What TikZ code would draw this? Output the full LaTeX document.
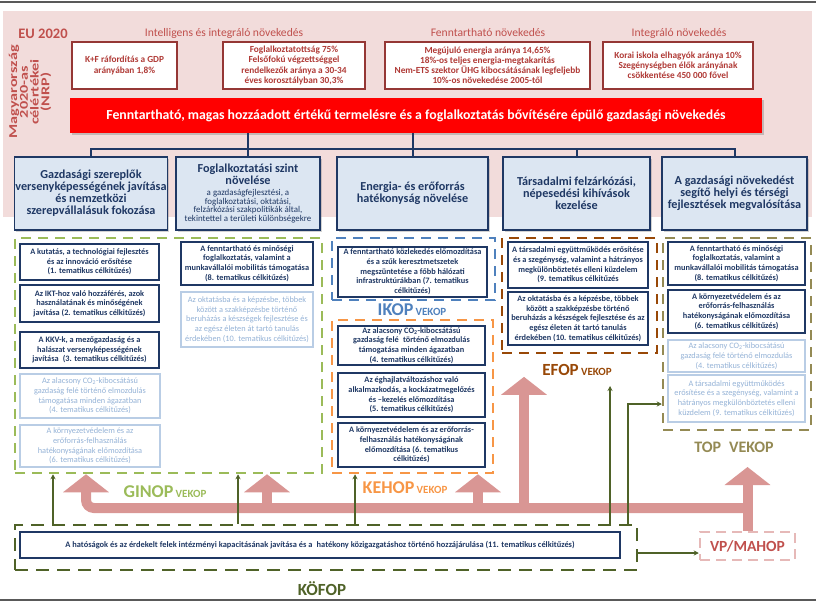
\documentclass[tikz,border=0pt]{standalone}
\usepackage{fontspec}
\setmainfont{Carlito}
\newfontfamily\widefont[FakeStretch=1.35]{Carlito}
\usepackage{xcolor}
\usepackage{tikz}
\usetikzlibrary{arrows.meta,shadows}

\definecolor{bgpink}{HTML}{F2DCDB}
\definecolor{nrpred}{HTML}{C0504D}
\definecolor{goalred}{HTML}{953735}
\definecolor{goaltext}{HTML}{B03A36}
\definecolor{barred}{HTML}{FF0000}
\definecolor{navy}{HTML}{1F3864}
\definecolor{pillarfill}{HTML}{DCE6F2}
\definecolor{fadeborder}{HTML}{B9CDE5}
\definecolor{fadetext}{HTML}{95B3D7}
\definecolor{ginopgreen}{HTML}{9BBB59}
\definecolor{ikopblue}{HTML}{4F81BD}
\definecolor{kehoporange}{HTML}{F79646}
\definecolor{efopbrown}{HTML}{984807}
\definecolor{topkhaki}{HTML}{948A54}
\definecolor{kofopolive}{HTML}{4F6228}
\definecolor{vppink}{HTML}{E6B9B8}
\definecolor{arrowpink}{HTML}{D99694}
\definecolor{framegray}{HTML}{595959}

\begin{document}
\begin{tikzpicture}[
  x=1pt, y=-1pt,
  >={Stealth[length=5pt,width=5pt]},
  head/.style={text=nrpred, font=\fontsize{11.6}{13}\selectfont},
  goal/.style={
    draw=goalred, line width=1.4pt, fill=white, align=center,
    inner sep=1pt, minimum height=47pt, text=goaltext,
    font=\fontsize{9.3}{10.1}\selectfont\bfseries
  },
  pillar/.style={
    draw=navy, line width=1.8pt, fill=pillarfill, align=center,
    inner sep=1pt, minimum height=73pt, text=navy,
    font=\fontsize{12.2}{12}\selectfont\bfseries,
    drop shadow={shadow xshift=1.5pt, shadow yshift=-1.5pt, opacity=0.35}
  },
  obj/.style={
    draw=navy, line width=1.5pt, fill=white, align=center,
    inner sep=1pt, text=navy,
    font=\fontsize{8.3}{9.7}\selectfont\bfseries
  },
  fobj/.style={obj, draw=fadeborder, line width=1.3pt, text=fadetext,
    font=\fontsize{8.3}{9.7}\selectfont},
  prog/.style={draw=#1, line width=2.5pt, dash pattern=on 10pt off 7pt},
  proglabel/.style={text=#1, font=\bfseries, inner sep=1pt},
  bigarrow/.style={-{Triangle[length=18pt,width=45pt]}, line width=10pt, arrowpink},
  thinarrow/.style={->, line width=1.2pt, kofopolive},
  treeline/.style={navy, line width=2pt}
]
\useasboundingbox (0,0) rectangle (816,602);

% ── Frame and background ────────────────────────────────────────────────────
\draw[framegray, line width=1.2pt] (0,2) -- (816,2);
\draw[framegray, line width=1.2pt] (0,600) -- (816,600);
\fill[bgpink] (3,11) rectangle (812,217);

% ── Row 0: EU 2020 targets ──────────────────────────────────────────────────
\node[font=\fontsize{14.5}{16}\selectfont\bfseries, text=nrpred] (eu) at (43,34) {EU 2020};
\node[rotate=90, align=center, text=nrpred,
  font=\widefont\fontsize{12}{10.8}\selectfont\bfseries]
  (nrp) at (30,92) {Magyarország\\2020-as\\célértékei\\(NRP)};

\node[head] (hsmart) at (224,33) {Intelligens és integráló növekedés};
\node[head] (hsust)  at (488,33) {Fenntartható növekedés};
\node[head] (hincl)  at (679,33) {Integráló növekedés};

\node[goal, minimum width=105pt] (gkf)  at (124.5,65.5)
  {K+F ráfordítás a GDP\\arányában 1,8\%};
\node[goal, minimum width=142pt] (gfog) at (294,65.5)
  {Foglalkoztatottság 75\%\\Felsőfokú végzettséggel\\rendelkezők aránya a 30-34\\éves korosztályban 30,3\%};
\node[goal, minimum width=205pt] (gene) at (487.5,65.5)
  {Megújuló energia aránya 14,65\%\\18\%-os teljes energia-megtakarítás\\Nem-ETS szektor ÜHG kibocsátásának legfeljebb\\10\%-os növekedése 2005-től};
\node[goal, minimum width=150pt] (gint) at (678,65.5)
  {Korai iskola elhagyók aránya 10\%\\Szegénységben élők arányának\\csökkentése 450 000 fővel};

% ── Row 1: overall goal ─────────────────────────────────────────────────────
\node[fill=barred, text=white, minimum width=692pt, minimum height=35pt, inner sep=1pt,
  font=\fontsize{13.8}{15}\selectfont\bfseries,
  drop shadow={shadow xshift=2pt, shadow yshift=-2pt, opacity=0.4}]
  (bar) at (416,115.5)
  {Fenntartható, magas hozzáadott értékű termelésre és a foglalkoztatás bővítésére épülő gazdasági növekedés};

% ── Row 2: priorities ───────────────────────────────────────────────────────
\node[pillar, minimum width=152pt] (pA) at (91,193.5)
  {Gazdasági szereplők\\versenyképességének javítása\\és nemzetközi\\szerepvállalásuk fokozása};
\node[pillar, minimum width=144pt] (pB) at (248,193.5)
  {Foglalkoztatási szint\\növelése\\[-0.5pt]{\fontsize{8.9}{7.9}\selectfont\mdseries
   \begin{tabular}[t]{@{}c@{}}a gazdaságfejlesztési, a\\foglalkoztatási, oktatási,\\felzárkózási szakpolitikák által,\\tekintettel a területi különbségekre\end{tabular}}};
\node[pillar, minimum width=151pt] (pC) at (412.5,193.5)
  {Energia- és erőforrás\\hatékonyság növelése};
\node[pillar, minimum width=147pt] (pD) at (576.5,193.5)
  {Társadalmi felzárkózási,\\népesedési kihívások\\kezelése};
\node[pillar, minimum width=145pt] (pE) at (734.5,193.5)
  {A gazdasági növekedést\\segítő helyi és térségi\\fejlesztések megvalósítása};

\coordinate (hub) at (416,149);
\draw[treeline] (pA.north) |- (hub) -| (pE.north);
\draw[treeline] (bar.south -| pB.north) -- (pB.north);
\draw[treeline] (bar.south -| pC.north) -- (pC.north);
\draw[treeline] (hub -| pD.north) -- (pD.north);

% ── Row 3: operational programmes ───────────────────────────────────────────
\node[prog=ginopgreen,  minimum width=307pt, minimum height=235pt] (ginop) at (168.5,355.5) {};
\node[prog=ikopblue,    minimum width=163pt, minimum height=62pt]  (ikop)  at (413.5,269) {};
\node[prog=kehoporange, minimum width=161pt, minimum height=153pt] (kehop) at (412.5,396.5) {};
\node[prog=efopbrown,   minimum width=155pt, minimum height=115pt] (efop)  at (579.5,295.5) {};
\node[prog=topkhaki,    minimum width=148pt, minimum height=192pt] (top)   at (737,334) {};
\node[prog=kofopolive, dash pattern=on 13pt off 8pt,
  minimum width=622pt, minimum height=45pt] (kofop) at (326,547.5) {};
\node[prog=vppink, dash pattern=on 10pt off 6pt, text=nrpred,
  font=\fontsize{15.5}{17}\selectfont\bfseries,
  minimum width=95pt, minimum height=28pt] (vp) at (747.5,546) {VP/MAHOP};

\node[proglabel=ginopgreen]  (ginopL) at (165,492)
  {{\fontsize{18}{20}\selectfont GINOP} {\fontsize{11}{12}\selectfont VEKOP}};
\node[proglabel=ikopblue]    (ikopL)  at (412,310)
  {{\fontsize{18}{20}\selectfont IKOP} {\fontsize{11}{12}\selectfont VEKOP}};
\node[proglabel=kehoporange] (kehopL) at (405,488)
  {{\fontsize{18}{20}\selectfont KEHOP} {\fontsize{11}{12}\selectfont VEKOP}};
\node[proglabel=efopbrown]   (efopL)  at (577,370)
  {{\fontsize{17}{19}\selectfont EFOP} {\fontsize{11}{12}\selectfont VEKOP}};
\node[proglabel=topkhaki, font=\fontsize{16}{18}\selectfont\bfseries]
  (topL) at (734,447) {TOP\enspace VEKOP};
\node[proglabel=kofopolive, font=\fontsize{17}{19}\selectfont\bfseries]
  (kofopL) at (322,589) {KÖFOP};

% ── Thematic objectives: GINOP ──────────────────────────────────────────────
\node[obj, minimum width=139pt, minimum height=36pt] (gin1) at (89.5,262)
  {A kutatás, a technológiai fejlesztés\\és az innováció erősítése\\(1. tematikus célkitűzés)};
\node[obj, minimum width=139pt, minimum height=37pt] (gin2) at (89.5,303.5)
  {Az IKT-hoz való hozzáférés, azok\\használatának és minőségének\\javítása (2. tematikus célkitűzés)};
\node[obj, minimum width=139pt, minimum height=36pt] (gin3) at (89.5,350)
  {A KKV-k, a mezőgazdaság és a\\halászat versenyképességének\\javítása\enspace(3. tematikus célkitűzés)};
\node[fobj, minimum width=140pt, minimum height=44pt] (gin4) at (90,396)
  {Az alacsony CO\textsubscript{2}-kibocsátású\\gazdaság felé történő elmozdulás\\támogatása minden ágazatban\\(4. tematikus célkitűzés)};
\node[fobj, minimum width=140pt, minimum height=42pt] (gin5) at (90,446)
  {A környezetvédelem és az\\erőforrás-felhasználás\\hatékonyságának előmozdítása\\(6. tematikus célkitűzés)};
\node[obj, minimum width=132pt, minimum height=43pt] (gin6) at (247,263.5)
  {A fenntartható és minőségi\\foglalkoztatás, valamint a\\munkavállalói mobilitás támogatása\\(8. tematikus célkitűzés)};
\node[fobj, minimum width=132pt, minimum height=55pt] (gin7) at (247,319.5)
  {Az oktatásba és a képzésbe, többek\\között a szakképzésbe történő\\beruházás a készségek fejlesztése és\\az egész életen át tartó tanulás\\érdekében (10. tematikus célkitűzés)};

% ── Thematic objectives: IKOP, KEHOP ────────────────────────────────────────
\node[obj, minimum width=149pt, minimum height=50pt] (ikop1) at (412.5,272)
  {A fenntartható közlekedés előmozdítása\\és a szűk keresztmetszetek\\megszüntetése a főbb hálózati\\infrastruktúrákban (7. tematikus\\célkitűzés)};
\node[obj, minimum width=147pt, minimum height=39pt] (keh1) at (411.5,345.5)
  {Az alacsony CO\textsubscript{2}-kibocsátású\\gazdaság felé\enspace történő elmozdulás\\támogatása minden ágazatban\\(4. tematikus célkitűzés)};
\node[obj, minimum width=147pt, minimum height=44pt] (keh2) at (411.5,395)
  {Az éghajlatváltozáshoz való\\alkalmazkodás, a kockázatmegelőzés\\és –kezelés előmozdítása\\(5. tematikus célkitűzés)};
\node[obj, minimum width=147pt, minimum height=44pt] (keh3) at (411.5,445)
  {A környezetvédelem és az erőforrás-\\felhasználás hatékonyságának\\előmozdítása (6. tematikus\\célkitűzés)};

% ── Thematic objectives: EFOP, TOP ──────────────────────────────────────────
\node[obj, minimum width=140pt, minimum height=46pt] (efop1) at (578,265)
  {A társadalmi együttműködés erősítése\\és a szegénység, valamint a hátrányos\\megkülönböztetés elleni küzdelem\\(9. tematikus célkitűzés};
\node[obj, minimum width=140pt, minimum height=53pt] (efop2) at (578,318.5)
  {Az oktatásba és a képzésbe, többek\\között a szakképzésbe történő\\beruházás a készségek fejlesztése és az\\egész életen át tartó tanulás\\érdekében (10. tematikus célkitűzés)};
\node[obj, minimum width=137pt, minimum height=43pt] (top1) at (736.5,263.5)
  {A fenntartható és minőségi\\foglalkoztatás, valamint a\\munkavállalói mobilitás támogatása\\(8. tematikus célkitűzés)};
\node[obj, minimum width=137pt, minimum height=43pt] (top2) at (736.5,311.5)
  {A környezetvédelem és az\\erőforrás-felhasználás\\hatékonyságának előmozdítása\\(6. tematikus célkitűzés)};
\node[fobj, minimum width=137pt, minimum height=32pt] (top3) at (736.5,356)
  {Az alacsony CO\textsubscript{2}-kibocsátású\\gazdaság felé történő elmozdulás\\(4. tematikus célkitűzés)};
\node[fobj, minimum width=137pt, minimum height=47pt] (top4) at (736.5,398.5)
  {A társadalmi együttműködés\\erősítése és a szegénység, valamint a\\hátrányos megkülönböztetés elleni\\küzdelem (9. tematikus célkitűzés)};

% ── Thematic objective: KÖFOP ───────────────────────────────────────────────
\node[obj, minimum width=600pt, minimum height=26pt, font=\fontsize{8.4}{10}\selectfont\bfseries]
  (kof1) at (320,545)
  {A hatóságok és az érdekelt felek intézményi kapacitásának javítása és a\enspace hatékony közigazgatáshoz történő hozzájárulása (11. tematikus célkitűzés)};

% ── Arrows: rural programme to the others ───────────────────────────────────
\coordinate (band-l) at (86,508);
\coordinate (band-r) at (747.5,508);
\coordinate (top-in) at (747.5,467);
\draw[bigarrow, rounded corners=8pt] (band-r) -- (band-l) -- (band-l |- ginop.south);
\foreach \x/\dst in {267/ginop, 478/kehop, 524/efopL}
  \draw[bigarrow] (\x,508) -- (\dst.south -| \x,508);
\draw[bigarrow] (vp.north) -- (top-in);

% ── Arrows: public administration to the others ─────────────────────────────
\coordinate (efop-in) at (610,386);
\foreach \x/\dst in {53/ginop, 238/ginop, 355/kehop}
  \draw[thinarrow] (kofop.north -| \x,0) -- (\dst.south -| \x,0);
\draw[thinarrow] (kofop.north -| efop-in) -- (efop-in);
\draw[thinarrow] (kofop.north -| 628,0) |- (top.west |- 0,404);
\draw[thinarrow] (kofop.east |- 0,553) -- (vp.west |- 0,553);

\end{tikzpicture}
\end{document}
